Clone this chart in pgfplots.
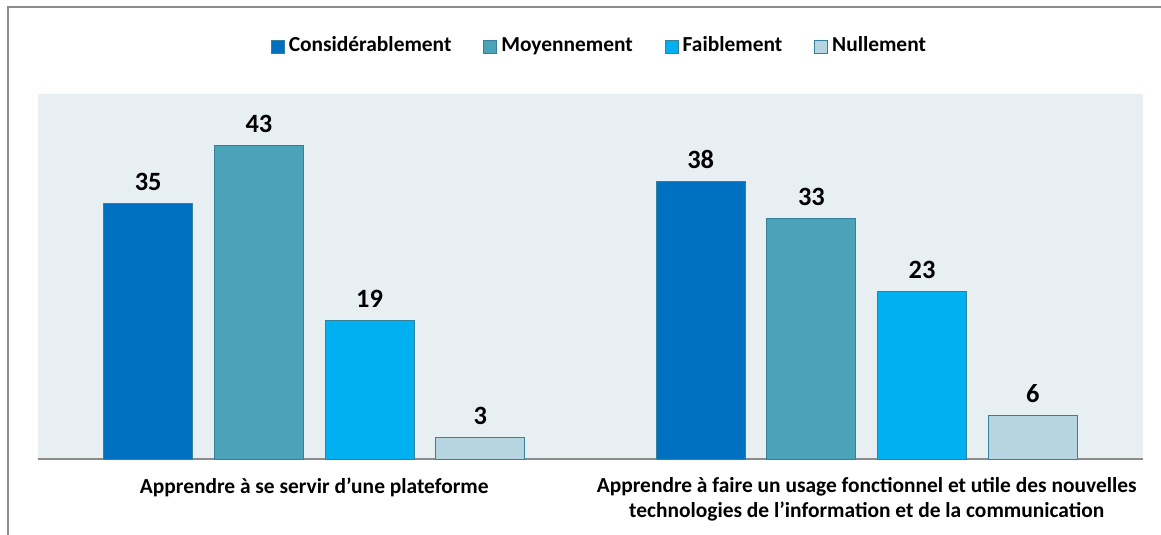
\documentclass[border=0pt]{standalone}
\usepackage{fontspec}
\setmainfont{Carlito}
\usepackage{pgfplots}
\pgfplotsset{compat=1.18}
\definecolor{cConsid}{HTML}{0070C0}
\definecolor{cMoyen}{HTML}{4BA3BA}
\definecolor{cFaible}{HTML}{00B0F0}
\definecolor{cNul}{HTML}{B7D5E1}
\definecolor{cEdge}{HTML}{35809A}
\definecolor{cBack}{HTML}{E8EFF3}
\definecolor{cLine}{HTML}{8C8C8C}

\begin{document}
\begin{tikzpicture}
\useasboundingbox (-38bp,-76bp) rectangle (1123bp,459bp);
\draw[cLine, line width=2bp] (-29.5bp,-76bp) -- (-29.5bp,451.5bp) -- (1123bp,451.5bp);
\begin{axis}[
    scale only axis,
    width=1105bp, height=365bp,
    ybar=21.7bp, bar width=89bp,
    xmin=-0.5, xmax=1.5, ymin=0, ymax=50,
    axis background/.style={fill=cBack},
    axis x line=bottom, axis y line=none,
    axis line style={-, cLine, line width=2bp},
    xtick={0,1},
    xticklabels={{Apprendre à se servir d’une plateforme},
                 {Apprendre à faire un usage fonctionnel et utile des nouvelles\\technologies de l’information et de la communication}},
    major tick length=0pt,
    xticklabel style={font=\fontsize{21.5}{25}\selectfont\bfseries, align=center, anchor=north, yshift=-15bp},
    ytick=\empty,
    nodes near coords,
    nodes near coords style={font=\fontsize{26.5}{30}\selectfont\bfseries, text=black, yshift=9bp},
    /pgf/number format/assume math mode=true,
    legend columns=4,
    legend image code/.code={\draw[#1] (0bp,-6.5bp) rectangle (13bp,6.5bp);},
    legend style={draw=none, fill=none, at={(0.509,1.13)}, anchor=center,
        font=\fontsize{21.5}{25}\selectfont\bfseries,
        nodes={text height=14bp, text depth=4bp, inner xsep=4bp},
        /tikz/every even column/.append style={column sep=28bp}},
]
\addplot[fill=cConsid, draw=cEdge, line width=0.9bp] coordinates {(0,35) (1,38)};
\addplot[fill=cMoyen, draw=cEdge, line width=0.9bp] coordinates {(0,43) (1,33)};
\addplot[fill=cFaible, draw=cEdge, line width=0.9bp] coordinates {(0,19) (1,23)};
\addplot[fill=cNul, draw=cEdge, line width=0.9bp] coordinates {(0,3) (1,6)};
\legend{Considérablement, Moyennement, Faiblement, Nullement}
\end{axis}
\end{tikzpicture}
\end{document}
